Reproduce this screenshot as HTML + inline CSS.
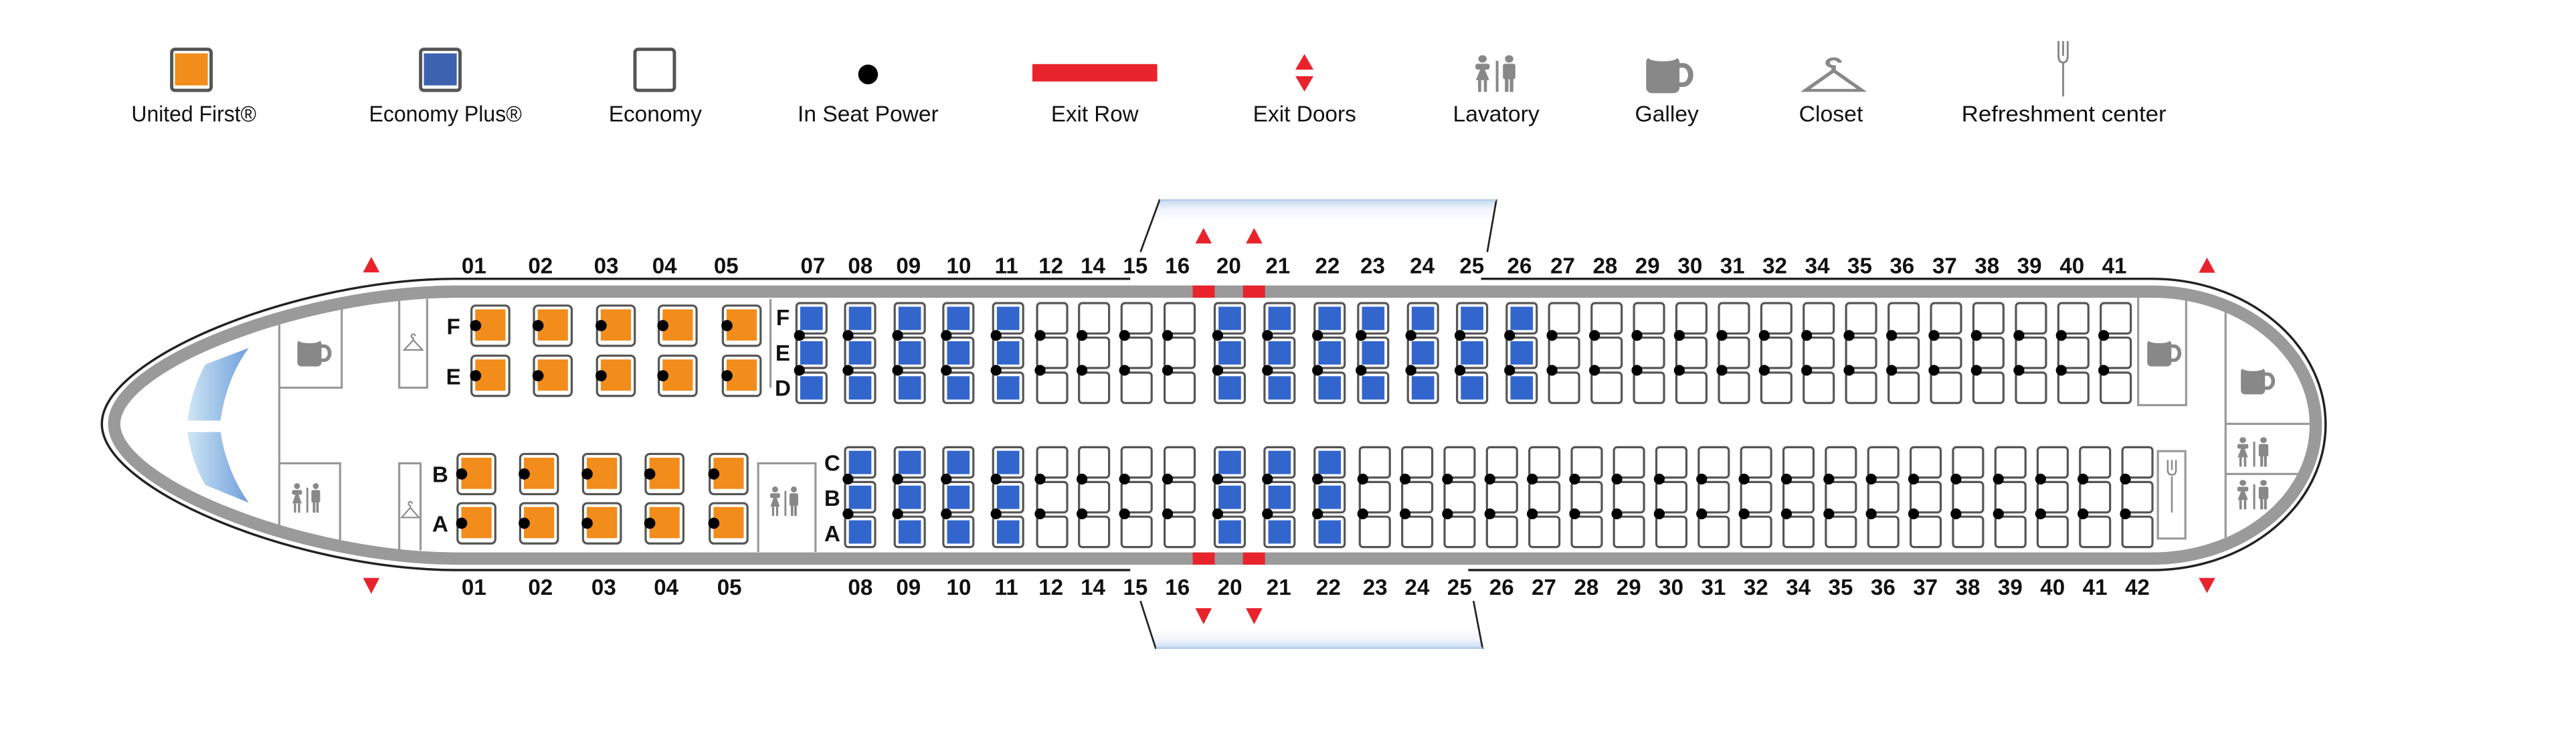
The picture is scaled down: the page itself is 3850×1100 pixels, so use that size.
<!DOCTYPE html>
<html><head><meta charset="utf-8">
<style>
html,body{margin:0;padding:0;background:#fff;}
svg{display:block;}
.lg{font-family:"Liberation Sans",sans-serif;font-size:13.5px;fill:#111;}
.rn{font-family:"Liberation Sans",sans-serif;font-size:13.5px;font-weight:bold;fill:#111;text-anchor:middle;}
.bx{fill:none;stroke:#999;stroke-width:1.3;}
</style></head>
<body>
<svg width="3850" height="1100" viewBox="0 0 1568 448" xmlns="http://www.w3.org/2000/svg">
<defs>
  <linearGradient id="ws" x1="0" x2="1" y1="0" y2="0">
    <stop offset="0" stop-color="#cfe6f5"/><stop offset="1" stop-color="#6f9fdb"/>
  </linearGradient>
  <linearGradient id="wt" x1="0" x2="0" y1="0" y2="1">
    <stop offset="0" stop-color="#c4d8ef"/><stop offset="0.18" stop-color="#eef4fb"/><stop offset="0.4" stop-color="#fff"/><stop offset="1" stop-color="#fff"/>
  </linearGradient>
  <linearGradient id="wb" x1="0" x2="0" y1="1" y2="0">
    <stop offset="0" stop-color="#c4d8ef"/><stop offset="0.18" stop-color="#eef4fb"/><stop offset="0.4" stop-color="#fff"/><stop offset="1" stop-color="#fff"/>
  </linearGradient>
  <g id="sw"><rect x="0" y="0" width="18.3" height="18.5" rx="2" fill="#fff" stroke="#555" stroke-width="1.3"/></g>
  <g id="sb"><rect x="0" y="0" width="18.3" height="18.5" rx="2" fill="#fff" stroke="#555" stroke-width="1.3"/><rect x="2.3" y="2.2" width="13.7" height="14.2" fill="#3366cc"/></g>
  <g id="ctW"><use href="#sw" y="184.5"/><use href="#sw" y="205.5"/><use href="#sw" y="226.8"/><circle cx="1.8" cy="204.2" r="3.3"/><circle cx="1.8" cy="225.4" r="3.3"/></g>
  <g id="ctB"><use href="#sb" y="184.5"/><use href="#sb" y="205.5"/><use href="#sb" y="226.8"/><circle cx="1.8" cy="204.2" r="3.3"/><circle cx="1.8" cy="225.4" r="3.3"/></g>
  <g id="cbW"><use href="#sw" y="272.2"/><use href="#sw" y="293.4"/><use href="#sw" y="314.5"/><circle cx="1.8" cy="291.6" r="3.3"/><circle cx="1.8" cy="312.8" r="3.3"/></g>
  <g id="cbB"><use href="#sb" y="272.2"/><use href="#sb" y="293.4"/><use href="#sb" y="314.5"/><circle cx="1.8" cy="291.6" r="3.3"/><circle cx="1.8" cy="312.8" r="3.3"/></g>
  <g id="so"><rect width="23" height="24.5" rx="2.5" fill="#fff" stroke="#555" stroke-width="1.3"/><rect x="2.3" y="2.3" width="18.4" height="19" fill="#f28c1a"/><circle cx="2.5" cy="12.2" r="3.4"/></g>
  <g id="mug"><rect x="0" y="2" width="14" height="17" rx="2.5" fill="#888"/><ellipse cx="7" cy="2.5" rx="6" ry="1.6" fill="#fff"/><path d="M13.5,6 h2 a3.2,4.5 0 0 1 0,9 h-2" fill="none" stroke="#888" stroke-width="2.2"/></g>
  <g id="lav" fill="#888"><circle cx="4" cy="2" r="1.9"/><path d="M4,4.5 L1,13 L7,13 Z"/><rect x="2" y="13" width="1.4" height="6"/><rect x="4.6" y="13" width="1.4" height="6"/><rect x="0.8" y="4.5" width="6.4" height="3" rx="1"/><rect x="10" y="3" width="1.2" height="16"/><circle cx="16" cy="2" r="1.9"/><rect x="13.2" y="4.5" width="5.6" height="8" rx="1"/><rect x="14.1" y="12" width="1.6" height="7"/><rect x="16.3" y="12" width="1.6" height="7"/></g>
  <g id="hg"><path d="M0,10 L7,2.5 L14,10 Z M7,2.5 v-1.5 a1.5,1.5 0 1 1 1.5,-1.5" fill="none" stroke="#888" stroke-width="1.1"/></g>
</defs>

<!-- Legend -->
<rect x="104.5" y="30" width="24" height="25" rx="2" fill="#fff" stroke="#555" stroke-width="2"/><rect x="106.5" y="32.5" width="20" height="19.5" fill="#f28c1a"/>
<rect x="256" y="30" width="24" height="25" rx="2" fill="#fff" stroke="#555" stroke-width="2"/><rect x="258" y="32.5" width="20" height="19.5" fill="#3d63b0"/>
<rect x="386.5" y="30" width="24" height="25" rx="2" fill="#fff" stroke="#555" stroke-width="2"/>
<circle cx="528.4" cy="45.3" r="6"/>
<rect x="628.4" y="39" width="76" height="10.6" fill="#e8232b"/>
<path d="M788.5,42.4 L794,32.9 L799.5,42.4 Z M788.5,46.4 L794,55.7 L799.5,46.4 Z" fill="#e8232b"/>
<use href="#lav" transform="translate(897,33.5) scale(1.35,1.18)"/>
<use href="#mug" transform="translate(1002,32) scale(1.45,1.3)"/>
<use href="#hg" transform="translate(1099,39) scale(2.45,1.6)"/>
<g stroke="#888" fill="none" stroke-width="1.2"><line x1="1255.8" y1="38" x2="1255.8" y2="58.7"/><path d="M1253,25 v9 q0,4 2.8,4 q2.8,0 2.8,-4 v-9 M1255.8,25 v9"/></g>
<text class="lg" x="80" y="74" textLength="76" lengthAdjust="spacingAndGlyphs">United First®</text>
<text class="lg" x="224.6" y="74" textLength="93" lengthAdjust="spacingAndGlyphs">Economy Plus®</text>
<text class="lg" x="370.5" y="74" textLength="56.7" lengthAdjust="spacingAndGlyphs">Economy</text>
<text class="lg" x="485.5" y="74" textLength="85.8" lengthAdjust="spacingAndGlyphs">In Seat Power</text>
<text class="lg" x="639.8" y="74" textLength="53.2" lengthAdjust="spacingAndGlyphs">Exit Row</text>
<text class="lg" x="762.7" y="74" textLength="62.8" lengthAdjust="spacingAndGlyphs">Exit Doors</text>
<text class="lg" x="884.4" y="74" textLength="52.6" lengthAdjust="spacingAndGlyphs">Lavatory</text>
<text class="lg" x="995.2" y="74" textLength="38.8" lengthAdjust="spacingAndGlyphs">Galley</text>
<text class="lg" x="1095" y="74" textLength="39" lengthAdjust="spacingAndGlyphs">Closet</text>
<text class="lg" x="1194" y="74" textLength="124.6" lengthAdjust="spacingAndGlyphs">Refreshment center</text>

<!-- Wings -->
<path d="M694.2,153.4 L706,121.3 L910.9,121.3 L905.3,153.4 Z" fill="url(#wt)"/>
<path d="M694.2,365.8 L703.6,395 L902.5,395 L896.9,365.8 Z" fill="url(#wb)"/>
<g stroke="#222" stroke-width="1.1"><line x1="694.2" y1="153.4" x2="706" y2="121.3"/><line x1="910.9" y1="121.3" x2="905.3" y2="153.4"/><line x1="694.2" y1="365.8" x2="703.6" y2="395"/><line x1="896.9" y1="365.8" x2="902.5" y2="395"/></g>
<line x1="706" y1="121.8" x2="910.9" y2="121.8" stroke="#b4cce9" stroke-width="1"/>
<line x1="703.6" y1="394.5" x2="902.5" y2="394.5" stroke="#b4cce9" stroke-width="1"/>

<!-- Interior boxes -->
<path class="bx" d="M170,196 L170,321 M170,236 L208,236 L208,186 M170,282 L207,282 L207,331"/>
<path class="bx" d="M243,182 L243,236 L260,236 L260,182"/>
<path class="bx" d="M243,335 L243,282 L256,282 L256,335"/>
<path class="bx" d="M469,182 L469,236"/>
<path class="bx" d="M461.5,336 L461.5,282 L496.4,282 L496.4,336"/>
<path class="bx" d="M1301.5,181 L1301.5,246.6 L1330.7,246.6 L1330.7,181"/>
<rect class="bx" x="1313.5" y="274.6" width="16.7" height="53.2"/>
<path class="bx" d="M1354.7,186 L1354.7,329 M1354.7,258 L1407,258 M1354.7,288.5 L1401,288.5"/>

<!-- Fuselage -->
<g fill="none">
<path d="M688,169.7 L277,169.7 C180,170 62,218 62,258 C62,298 180,346.5 277,347 L688,347" stroke="#222" stroke-width="1.4"/>
<path d="M901.5,169.7 L1310,169.7 A105.6,88.65 0 0 1 1310,347 L893.7,347" stroke="#222" stroke-width="1.4"/>
<path d="M1310,177.5 L277,177.5 C183,178 69.5,222 69.5,258 C69.5,294 183,339.5 277,340 L1310,340 A99.6,81.25 0 0 0 1310,177.5 Z" stroke="#9a9a9a" stroke-width="7.5"/>
</g>
<g fill="#e8232b"><rect x="726" y="173.8" width="13.4" height="7.4"/><rect x="756.6" y="173.8" width="13.4" height="7.4"/><rect x="726" y="336.3" width="13.4" height="7.4"/><rect x="756.6" y="336.3" width="13.4" height="7.4"/></g>

<!-- Windshield -->
<path d="M125,221.8 L151.4,211.8 Q138,230 134.2,256 L114,256 Q117,236 125,221.8 Z" fill="url(#ws)"/>
<path d="M125,295.2 L151.4,306 Q138,287 134.2,263 L114,263 Q117,282 125,295.2 Z" fill="url(#ws)"/>

<!-- icons in cabin -->
<use href="#mug" transform="translate(181,205) scale(1.05,0.95)"/>
<use href="#mug" transform="translate(1307,205) scale(1.05,0.95)"/>
<use href="#mug" transform="translate(1364,222) scale(1.05,0.95)"/>
<use href="#lav" transform="translate(177,294) scale(0.95,0.95)"/>
<use href="#lav" transform="translate(468,296) scale(0.95,0.95)"/>
<use href="#lav" transform="translate(1361,266) scale(1.05,0.95)"/>
<use href="#lav" transform="translate(1361,292) scale(1.05,0.95)"/>
<use href="#hg" transform="translate(246,205) scale(0.8,0.8)"/>
<use href="#hg" transform="translate(244.5,307) scale(0.75,0.8)"/>
<g stroke="#888" fill="none" stroke-width="1"><line x1="1322" y1="290" x2="1322" y2="312"/><path d="M1319.5,280 v6 q0,3 2.5,3 q2.5,0 2.5,-3 v-6 M1322,280 v6"/></g>

<!-- Exit triangles -->
<g fill="#e8232b">
<path d="M221,165.8 L226,156.3 L231,165.8 Z M221,351.8 L226,361.4 L231,351.8 Z"/>
<path d="M1338.4,166 L1343.4,156.8 L1348.4,166 Z M1338.4,351.8 L1343.4,361 L1348.4,351.8 Z"/>
<path d="M727.6,148.2 L732.6,138.8 L737.6,148.2 Z M758.4,148.2 L763.4,138.8 L768.4,148.2 Z"/>
<path d="M727.6,370.2 L732.6,380 L737.6,370.2 Z M758.4,370.2 L763.4,380 L768.4,370.2 Z"/>
</g>

<!-- First class -->
<use href="#so" x="287" y="186"/><use href="#so" x="325" y="186"/><use href="#so" x="363.4" y="186"/><use href="#so" x="401" y="186"/><use href="#so" x="440" y="186"/>
<use href="#so" x="287" y="216.5"/><use href="#so" x="325" y="216.5"/><use href="#so" x="363.4" y="216.5"/><use href="#so" x="401" y="216.5"/><use href="#so" x="440" y="216.5"/>
<use href="#so" x="278.5" y="276.3"/><use href="#so" x="316.6" y="276.3"/><use href="#so" x="354.9" y="276.3"/><use href="#so" x="393" y="276.3"/><use href="#so" x="432" y="276.3"/>
<use href="#so" x="278.5" y="306.3"/><use href="#so" x="316.6" y="306.3"/><use href="#so" x="354.9" y="306.3"/><use href="#so" x="393" y="306.3"/><use href="#so" x="432" y="306.3"/>

<!-- Top columns -->
<use href="#ctB" x="484.8"/><use href="#ctB" x="514.4"/><use href="#ctB" x="544.6"/><use href="#ctB" x="574.2"/><use href="#ctB" x="604.5"/>
<use href="#ctW" x="631.3"/><use href="#ctW" x="656.8"/><use href="#ctW" x="682.7"/><use href="#ctW" x="708.9"/>
<use href="#ctB" x="739.4"/><use href="#ctB" x="769.7"/><use href="#ctB" x="800.2"/><use href="#ctB" x="826.7"/><use href="#ctB" x="857"/><use href="#ctB" x="886.9"/><use href="#ctB" x="917.1"/>
<use href="#ctW" x="942.9"/><use href="#ctW" x="968.8"/><use href="#ctW" x="994.6"/><use href="#ctW" x="1020.4"/><use href="#ctW" x="1046.3"/><use href="#ctW" x="1072.1"/><use href="#ctW" x="1097.9"/><use href="#ctW" x="1123.7"/><use href="#ctW" x="1149.6"/><use href="#ctW" x="1175.4"/><use href="#ctW" x="1201.2"/><use href="#ctW" x="1227.1"/><use href="#ctW" x="1252.9"/><use href="#ctW" x="1278.7"/>

<!-- Bottom columns -->
<use href="#cbB" x="514.4"/><use href="#cbB" x="544.6"/><use href="#cbB" x="574.2"/><use href="#cbB" x="604.5"/>
<use href="#cbW" x="631.3"/><use href="#cbW" x="656.8"/><use href="#cbW" x="682.7"/><use href="#cbW" x="708.9"/>
<use href="#cbB" x="739.4"/><use href="#cbB" x="769.7"/><use href="#cbB" x="800.2"/>
<use href="#cbW" x="827.7"/><use href="#cbW" x="853.5"/><use href="#cbW" x="879.3"/><use href="#cbW" x="905.1"/><use href="#cbW" x="930.9"/><use href="#cbW" x="956.7"/><use href="#cbW" x="982.4"/><use href="#cbW" x="1008.2"/><use href="#cbW" x="1034"/><use href="#cbW" x="1059.8"/><use href="#cbW" x="1085.6"/><use href="#cbW" x="1111.4"/><use href="#cbW" x="1137.2"/><use href="#cbW" x="1163"/><use href="#cbW" x="1188.8"/><use href="#cbW" x="1214.6"/><use href="#cbW" x="1240.3"/><use href="#cbW" x="1266.1"/><use href="#cbW" x="1291.9"/>

<!-- Seat letters -->
<g class="rn">
<text x="276" y="203.5">F</text><text x="276" y="234">E</text>
<text x="268" y="293.5">B</text><text x="268" y="323.5">A</text>
<text x="476.5" y="198">F</text><text x="476.5" y="219.5">E</text><text x="476.5" y="241">D</text>
<text x="506.6" y="286.5">C</text><text x="506.6" y="308">B</text><text x="506.6" y="329.5">A</text>
</g>

<!-- Row numbers top -->
<g class="rn">
<text x="288.5" y="166.4">01</text><text x="329" y="166.4">02</text><text x="369" y="166.4">03</text><text x="404.5" y="166.4">04</text><text x="442" y="166.4">05</text>
<text x="494.8" y="166.4">07</text><text x="523.7" y="166.4">08</text><text x="553" y="166.4">09</text><text x="583.6" y="166.4">10</text><text x="612.6" y="166.4">11</text><text x="639.7" y="166.4">12</text><text x="665.3" y="166.4">14</text><text x="691.1" y="166.4">15</text><text x="716.7" y="166.4">16</text><text x="747.9" y="166.4">20</text><text x="777.8" y="166.4">21</text><text x="808" y="166.4">22</text><text x="835.5" y="166.4">23</text><text x="865.7" y="166.4">24</text><text x="895.9" y="166.4">25</text><text x="924.9" y="166.4">26</text>
<text x="951.2" y="166.4">27</text><text x="977" y="166.4">28</text><text x="1002.8" y="166.4">29</text><text x="1028.7" y="166.4">30</text><text x="1054.5" y="166.4">31</text><text x="1080.3" y="166.4">32</text><text x="1106.2" y="166.4">34</text><text x="1132" y="166.4">35</text><text x="1157.8" y="166.4">36</text><text x="1183.7" y="166.4">37</text><text x="1209.5" y="166.4">38</text><text x="1235.3" y="166.4">39</text><text x="1261.2" y="166.4">40</text><text x="1287" y="166.4">41</text>
</g>
<!-- Row numbers bottom -->
<g class="rn">
<text x="288.5" y="362">01</text><text x="329" y="362">02</text><text x="367.5" y="362">03</text><text x="405.5" y="362">04</text><text x="444" y="362">05</text>
<text x="523.7" y="362">08</text><text x="553" y="362">09</text><text x="583.6" y="362">10</text><text x="612.6" y="362">11</text><text x="639.7" y="362">12</text><text x="665.3" y="362">14</text><text x="691.1" y="362">15</text><text x="716.7" y="362">16</text><text x="748.6" y="362">20</text><text x="778.4" y="362">21</text><text x="808.6" y="362">22</text><text x="837" y="362">23</text><text x="862.6" y="362">24</text><text x="888.4" y="362">25</text><text x="914" y="362">26</text>
<text x="939.8" y="362">27</text><text x="965.6" y="362">28</text><text x="991.4" y="362">29</text><text x="1017.2" y="362">30</text><text x="1043" y="362">31</text><text x="1068.8" y="362">32</text><text x="1094.6" y="362">34</text><text x="1120.4" y="362">35</text><text x="1146.2" y="362">36</text><text x="1172" y="362">37</text><text x="1197.8" y="362">38</text><text x="1223.6" y="362">39</text><text x="1249.4" y="362">40</text><text x="1275.2" y="362">41</text><text x="1301" y="362">42</text>
</g>
</svg>
</body></html>
